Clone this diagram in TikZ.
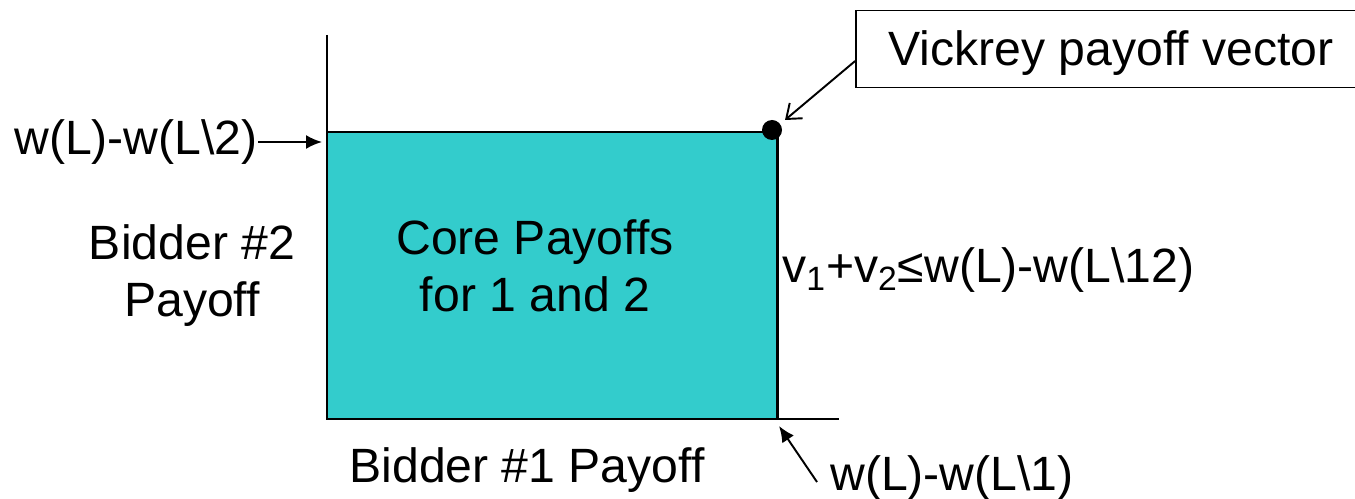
\documentclass[tikz,border=0pt]{standalone}
\usepackage{fontspec}
\setmainfont{Liberation Sans}
\usetikzlibrary{positioning, arrows, arrows.meta}
\definecolor{coreteal}{HTML}{33CCCC}

\begin{document}
\begin{tikzpicture}[x=0.02cm,y=-0.02cm]
\tikzstyle{every node}=[font=\fontsize{27.4}{32.4}\selectfont, inner sep=0pt]
\tikzstyle{axis}=[line width=1.7pt]
\tikzstyle{pointer}=[draw,-{Latex[length=0.32cm,width=0.28cm]},line width=1.1pt]
\tikzstyle{callout}=[draw,-{Straight Barb[length=0.26cm,width=0.4cm]},line width=1.1pt]

\useasboundingbox (0,0) rectangle (1355,499);

% axes and core region
\coordinate (O) at (327,419);
\coordinate (ytop) at (327,35);
\coordinate (xend) at (839,419);
\coordinate (Y2) at (327,132);
\coordinate (V) at (777,132);
\coordinate (X1) at (777,419);
\fill[coreteal] (O) rectangle (V);
\draw[axis] (Y2) -- (V) -- (X1);
\draw[axis] (ytop) -- (O) -- (xend);
\node[circle, fill, minimum size=0.4cm] (dot) at (772,130) {};

\node (core) [align=center] at (535,266) {Core Payoffs\\for 1 and 2};
\node (b2) [align=center] at (192,276) {Bidder \#2\\Payoff};
\node (b1) at (527,470) {Bidder \#1 Payoff};
\node (cons) [anchor=west] at (782,270) {v\textsubscript{1}+v\textsubscript{2}≤w(L)-w(L\textbackslash 12)};

% markers on the axes
\node (wl2) [anchor=east] at (258,142) {w(L)-w(L\textbackslash 2)};
\coordinate (y2tip) at (322,142);
\draw[pointer] (wl2.east) -- (y2tip);

\node (wl1) [anchor=west] at (830,478) {w(L)-w(L\textbackslash 1)};
\coordinate (x1tip) at (779,426);
\draw[pointer] ([xshift=-0.26cm,yshift=-0.08cm]wl1.west) -- (x1tip);

\node (vick) [draw, line width=1pt, minimum width=10.2cm, minimum height=1.54cm,
  text height=1.06cm, text depth=0.4cm] at (1111,49) {Vickrey payoff vector};
\coordinate (vtip) at (785,120);
\draw[callout] ([yshift=-0.24cm]vick.west) -- (vtip);
\end{tikzpicture}
\end{document}
